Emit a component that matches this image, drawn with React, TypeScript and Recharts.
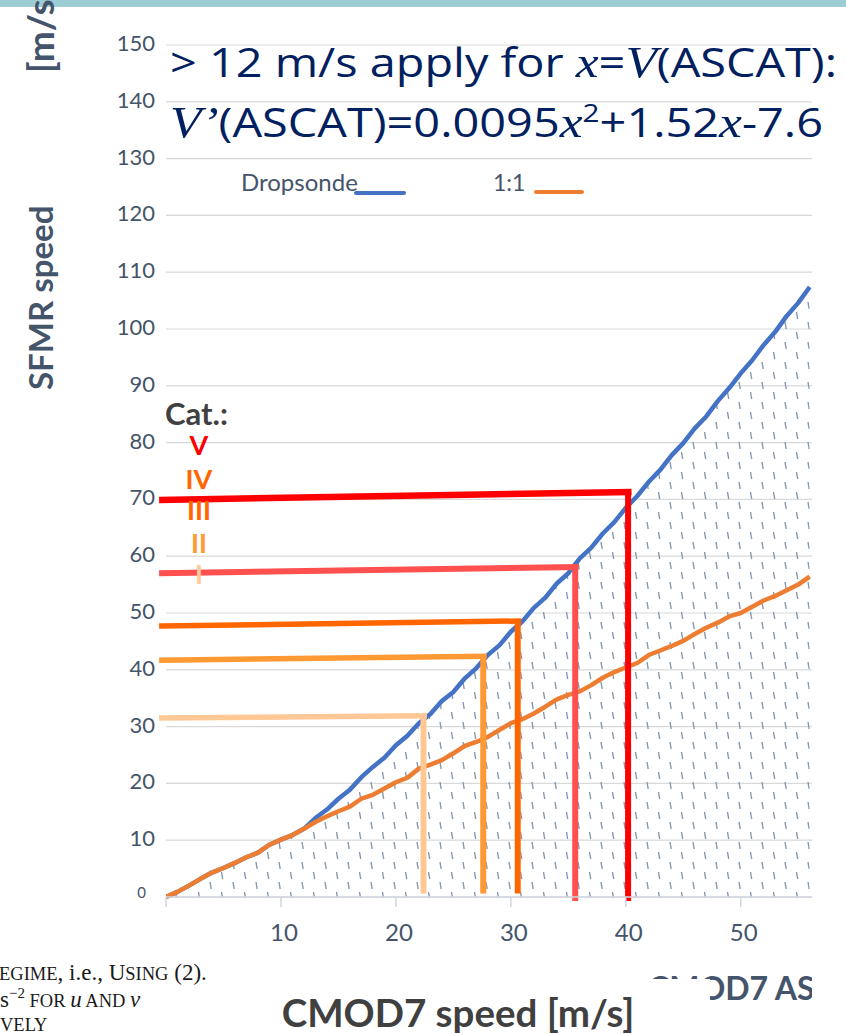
import {
  ComposedChart,
  Area,
  Line,
  XAxis,
  YAxis,
  CartesianGrid,
  ReferenceLine,
} from "recharts";

// CMOD7 wind speed bins [m/s]
const cmodSpeed = [
  0, 1, 2, 3, 4, 5, 6, 7, 8, 9, 10, 11, 12, 13, 14, 15, 16, 17, 18, 19, 20,
  21, 22, 23, 24, 25, 26, 27, 28, 29, 30, 31, 32, 33, 34, 35, 36, 37, 38, 39,
  40, 41, 42, 43, 44, 45, 46, 47, 48, 49, 50, 51, 52, 53, 54, 55, 56,
];

// dropsonde (SFMR) speed per bin
const dropsondeSpeed = [
  0, 0.9, 2.0, 3.2, 4.3, 5.1, 6.0, 7.0, 7.8, 9.2, 10.1, 10.9, 12.0, 13.9,
  15.4, 17.3, 18.9, 21.1, 22.9, 24.5, 26.7, 28.4, 30.6, 32.2, 34.5, 36.1,
  38.5, 40.3, 42.6, 44.3, 46.7, 48.5, 50.9, 52.7, 55.2, 57.0, 59.6, 61.5,
  64.0, 66.0, 68.5, 70.6, 73.1, 75.2, 77.8, 79.9, 82.5, 84.6, 87.3, 89.6,
  92.2, 94.5, 97.2, 99.5, 102.3, 104.6, 107.4,
];

// 1:1 reference
const oneToOne = [
  0, 0.9, 2.0, 3.2, 4.3, 5.1, 6.0, 7.0, 7.8, 9.2, 10.1, 10.9, 12.0, 13.2,
  14.2, 15.1, 15.9, 17.3, 18.0, 19.1, 20.2, 21.0, 22.6, 23.3, 24.1, 25.3,
  26.6, 27.3, 28.2, 29.4, 30.6, 31.3, 32.3, 33.5, 34.8, 35.6, 36.2, 37.3,
  38.6, 39.6, 40.4, 41.2, 42.6, 43.4, 44.2, 45.1, 46.3, 47.4, 48.3, 49.4,
  50.0, 51.1, 52.2, 53.0, 54.0, 55.0, 56.4,
];

// hurricane categories: SFMR threshold (left / right end) and CMOD7 crossing
const catNames = ["I", "II", "III", "IV", "V"];
const catSfmrStart = [31.5, 41.7, 47.7, 57.0, 69.9];
const catSfmrEnd = [31.9, 42.4, 48.6, 58.1, 71.3];
const catCmod = [22.4, 27.6, 30.6, 35.6, 40.2];

const yTicks = [0, 10, 20, 30, 40, 50, 60, 70, 80, 90, 100, 110, 120, 130, 140, 150];
const xTicks = [0, 10, 20, 30, 40, 50];

const catStyle = [
  { color: "#ffc894", width: 5.5, foot: 0.6, label: "#ffcc99" },
  { color: "#ff9933", width: 5.5, foot: 0.6, label: "#ff9933" },
  { color: "#ff6600", width: 5.5, foot: 0.6, label: "#ff6600" },
  { color: "#ff5050", width: 6, foot: -0.7, label: "#ff6600" },
  { color: "#ff0000", width: 6.5, foot: -0.7, label: "#ff0000" },
];
const catLabelBase = [584, 553, 520, 489, 455];

const FONT = "Lato, 'Open Sans', sans-serif";
const TITLE_FONT = "'Open Sans', Lato, sans-serif";
const SERIF = "'Liberation Serif', 'DejaVu Serif', serif";
const SLATE = "#44546a";

const rows = cmodSpeed.map((x, i) => ({
  x,
  drop: dropsondeSpeed[i],
  one: oneToOne[i],
}));

const YTick = ({ x, y, payload }: any) => {
  const small = payload.value === 0;
  return (
    <text
      x={small ? x - 9 : x}
      y={y}
      dy={small ? 1 : 6}
      textAnchor="end"
      fontSize={small ? 15 : 22}
      fill={SLATE}
      fontFamily={FONT}
    >
      {payload.value}
    </text>
  );
};

const XTick = ({ x, y, payload }: any) => {
  if (payload.value === 0) return <g />;
  return (
    <text
      x={x + 3}
      y={y}
      dy={34}
      textAnchor="middle"
      fontSize={24}
      fill={SLATE}
      fontFamily={FONT}
    >
      {payload.value}
    </text>
  );
};

const App = () => {
  return (
    <div
      style={{
        position: "absolute",
        left: 0,
        top: 0,
        width: 846,
        height: 1034,
        background: "#fff",
        overflow: "hidden",
      }}
    >
      <ComposedChart
        width={846}
        height={1034}
        data={rows}
        margin={{ top: 45, right: 34, bottom: 77, left: 106 }}
      >
        <defs>
          <pattern id="dashVert" width="23" height="20" patternUnits="userSpaceOnUse">
            <path d="M3 2 L4.2 9" stroke="#8497b0" strokeWidth={1.4} />
            <path d="M14.5 12 L15.7 19" stroke="#8497b0" strokeWidth={1.4} />
          </pattern>
        </defs>
        <CartesianGrid vertical={false} stroke="#d9d9d9" strokeWidth={1.2} />
        <XAxis
          dataKey="x"
          type="number"
          domain={[0, 56.2]}
          ticks={xTicks}
          allowDataOverflow
          height={60}
          axisLine={{ stroke: "#d0d5df", strokeWidth: 1.5 }}
          tickLine={{ stroke: "#d0d5df", strokeWidth: 1.5 }}
          tickSize={10}
          tickMargin={0}
          tick={<XTick />}
        />
        <YAxis
          type="number"
          domain={[0, 150]}
          ticks={yTicks}
          width={60}
          axisLine={false}
          tickLine={false}
          tickSize={0}
          tickMargin={11}
          tick={<YTick />}
        />
        <Area
          dataKey="drop"
          type="linear"
          fill="url(#dashVert)"
          fillOpacity={1}
          stroke="none"
          isAnimationActive={false}
        />
        <Line
          dataKey="drop"
          type="linear"
          stroke="#4472c4"
          strokeWidth={4.5}
          dot={false}
          strokeLinejoin="round"
          isAnimationActive={false}
        />
        <Line
          dataKey="one"
          type="linear"
          stroke="#ed7d31"
          strokeWidth={4.5}
          dot={false}
          strokeLinejoin="round"
          isAnimationActive={false}
        />
        {catNames.map((name, i) => (
          <ReferenceLine
            key={"h" + name}
            segment={[
              { x: -0.6, y: catSfmrStart[i] },
              { x: catCmod[i] + 0.3, y: catSfmrEnd[i] },
            ]}
            stroke={catStyle[i].color}
            strokeWidth={catStyle[i].width}
            ifOverflow="visible"
          />
        ))}
        {catNames.map((name, i) => (
          <ReferenceLine
            key={"v" + name}
            segment={[
              { x: catCmod[i], y: catSfmrEnd[i] },
              { x: catCmod[i], y: catStyle[i].foot },
            ]}
            stroke={catStyle[i].color}
            strokeWidth={6}
            ifOverflow="visible"
          />
        ))}
      </ComposedChart>

      <svg
        width={846}
        height={1034}
        style={{ position: "absolute", left: 0, top: 0, pointerEvents: "none" }}
      >
        <defs>
          <clipPath id="chartEdge">
            <rect x={0} y={0} width={812} height={1034} />
          </clipPath>
        </defs>
        <rect x={0} y={0} width={846} height={7} fill="#9ccdd5" />

        {/* formula */}
        <text
          x={170}
          y={77}
          fontFamily={TITLE_FONT}
          fontSize={41}
          fill="#002060"
          textLength={667}
          lengthAdjust="spacingAndGlyphs"
        >
          {"> 12 m/s apply for "}
          <tspan fontFamily={SERIF} fontStyle="italic" fontSize={45}>x</tspan>
          <tspan>=</tspan>
          <tspan fontFamily={SERIF} fontStyle="italic" fontSize={45}>V</tspan>
          <tspan>(ASCAT):</tspan>
        </text>
        <text
          x={170}
          y={137}
          fontFamily={TITLE_FONT}
          fontSize={41}
          fill="#002060"
          textLength={653}
          lengthAdjust="spacingAndGlyphs"
        >
          <tspan fontFamily={SERIF} fontStyle="italic" fontSize={45}>V’</tspan>
          <tspan>(ASCAT)=0.0095</tspan>
          <tspan fontFamily={SERIF} fontStyle="italic" fontSize={45}>x</tspan>
          <tspan dy={-15} fontSize={26}>2</tspan>
          <tspan dy={15}>+1.52</tspan>
          <tspan fontFamily={SERIF} fontStyle="italic" fontSize={45}>x</tspan>
          <tspan>-7.6</tspan>
        </text>

        {/* legend */}
        <text x={241} y={191} fontFamily={FONT} fontSize={24} fill={SLATE}>
          Dropsonde
        </text>
        <line x1={356} y1={193} x2={404} y2={193} stroke="#4472c4" strokeWidth={4} strokeLinecap="round" />
        <text x={493} y={191} fontFamily={FONT} fontSize={23} fill={SLATE}>
          1:1
        </text>
        <line x1={536} y1={192} x2={582} y2={192} stroke="#ed7d31" strokeWidth={4} strokeLinecap="round" />

        {/* category labels */}
        <text x={165} y={425} fontFamily={FONT} fontSize={31} fontWeight={700} fill="#404040">
          Cat.:
        </text>
        {catNames.map((name, i) => (
          <text
            key={"l" + name}
            x={199}
            y={catLabelBase[i]}
            textAnchor="middle"
            fontFamily={FONT}
            fontSize={27}
            fontWeight={700}
            fill={catStyle[i].label}
          >
            {name}
          </text>
        ))}

        {/* axis titles */}
        <text
          transform="translate(53,390) rotate(-90)"
          fontFamily={FONT}
          fontSize={33}
          fontWeight={700}
          fill={SLATE}
        >
          SFMR speed
        </text>
        <text
          transform="translate(54,73) rotate(-90)"
          fontFamily={FONT}
          fontSize={37}
          fontWeight={700}
          fill={SLATE}
        >
          [m/s]
        </text>
        <text
          x={648}
          y={1000}
          fontFamily={FONT}
          fontSize={32}
          fontWeight={700}
          fill={SLATE}
          clipPath="url(#chartEdge)"
        >
          CMOD7 ASCAT speed [m/s]
        </text>
        <rect x={250} y={979} width={460} height={60} fill="#fff" />
        <text
          x={458}
          y={1027}
          textAnchor="middle"
          fontFamily={FONT}
          fontSize={38.5}
          fontWeight={700}
          fill="#404040"
        >
          CMOD7 speed [m/s]
        </text>

        {/* caption fragment */}
        <g fontFamily={SERIF} fill="#1a1a1a">
          <text x={-1} y={980} fontSize={23}>
            <tspan fontSize={18.5}>EGIME</tspan>
            <tspan>, i.e., U</tspan>
            <tspan fontSize={18.5}>SING</tspan>
            <tspan> (2).</tspan>
          </text>
          <text x={0} y={1007} fontSize={23}>
            <tspan>s</tspan>
            <tspan dy={-9} fontSize={15}>−2</tspan>
            <tspan dy={9} fontSize={18.5}> FOR </tspan>
            <tspan fontStyle="italic">u</tspan>
            <tspan fontSize={18.5}> AND </tspan>
            <tspan fontStyle="italic">v</tspan>
          </text>
          <text x={0} y={1031} fontSize={18.5}>
            VELY
          </text>
        </g>
      </svg>
    </div>
  );
};

export default App;
